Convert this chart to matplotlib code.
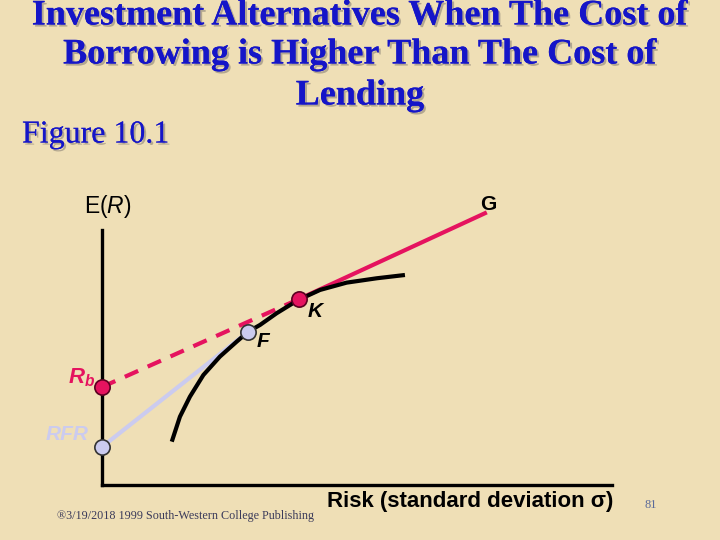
import matplotlib
matplotlib.use("Agg")
import matplotlib.pyplot as plt
import matplotlib.patheffects as pe

plt.rcParams["mathtext.fontset"] = "custom"
plt.rcParams["mathtext.rm"] = "Liberation Sans"
plt.rcParams["mathtext.it"] = "Liberation Sans:italic"
plt.rcParams["mathtext.bf"] = "Liberation Sans:bold"
plt.rcParams["mathtext.bfit"] = "Liberation Sans:italic:bold"

# ---- data (sigma, E(R)) ----
frontier_sigma = [3.42, 3.82, 4.31, 4.97, 5.78, 6.60, 7.17, 7.75, 8.56, 9.62, 10.69, 11.99, 13.47, 14.85]
frontier_er    = [2.38, 3.75, 4.85, 6.04, 7.05, 7.87, 8.42, 8.79, 9.43, 10.16, 10.71, 11.11, 11.35, 11.53]
rfr = (0.0, 2.09)
rb = (0.0, 5.38)
point_f = (7.17, 8.42)
point_k = (9.66, 10.21)
point_g = (18.77, 14.92)

title_lines = ["Investment Alternatives When The Cost of",
               "Borrowing is Higher Than The Cost of",
               "Lending"]

BG = "#EFDFB6"
CRIMSON = "#E5135F"
LAVENDER = "#CBCBEF"
BLUE = "#1515C8"

fig = plt.figure(figsize=(7.2, 5.4), dpi=100, facecolor=BG)

shadow = [pe.withSimplePatchShadow(offset=(1.5, -1.5), shadow_rgbFace="#9a9080", alpha=0.7), pe.Normal()]
title_y = [16, 55, 96]
for line, yp in zip(title_lines, title_y):
    fig.text(0.5, 1 - yp / 540, line, ha="center", va="center", fontsize=26,
             fontweight="bold", family="Liberation Serif", color=BLUE, path_effects=shadow)
fig.text(22 / 720, 1 - 135 / 540, "Figure 10.1", ha="left", va="center", fontsize=23,
         family="Liberation Serif", color=BLUE, path_effects=shadow)

ax = fig.add_axes([102 / 720, 55 / 540, 510 / 720, 255 / 540])
ax.set_facecolor("none")
ax.set_xlim(0, 25)
ax.set_ylim(0, 14)
for s in ["top", "right"]:
    ax.spines[s].set_visible(False)
for s in ["left", "bottom"]:
    ax.spines[s].set_linewidth(2.4)
    ax.spines[s].set_color("black")
    ax.spines[s].set_capstyle("projecting")
ax.set_xticks([])
ax.set_yticks([])

# efficient frontier
ax.plot(frontier_sigma, frontier_er, color="black", lw=3, solid_capstyle="butt",
        solid_joinstyle="round", zorder=3)
# lending line RFR -> F
ax.plot([rfr[0], point_f[0]], [rfr[1], point_f[1]], color=LAVENDER, lw=3, zorder=2)
# borrowing line Rb -> K (dashed), K -> G (solid)
ax.plot([rb[0], point_k[0]], [rb[1], point_k[1]], color=CRIMSON, lw=3,
        dashes=(3.5, 2.5), zorder=2, clip_on=False)
ax.plot([point_k[0], point_g[0]], [point_k[1], point_g[1]], color=CRIMSON, lw=3,
        zorder=2, clip_on=False)

ms = 11
ax.plot(*rfr, "o", ms=ms, mfc=LAVENDER, mec="#333333", mew=1.2, zorder=5, clip_on=False)
ax.plot(*point_f, "o", ms=ms, mfc=LAVENDER, mec="#333333", mew=1.2, zorder=5, clip_on=False)
ax.plot(*rb, "o", ms=ms, mfc=CRIMSON, mec="#5a0020", mew=1.2, zorder=5, clip_on=False)
ax.plot(*point_k, "o", ms=ms, mfc=CRIMSON, mec="#5a0020", mew=1.2, zorder=5, clip_on=False)

lab = dict(family="Liberation Sans", fontsize=15, clip_on=False)
ax.text(0.29, 15.27, r"E($\mathit{R}$)", ha="center", va="center", color="black",
        family="Liberation Sans", fontsize=16.5, clip_on=False)
ax.text(18.95, 15.38, "G", ha="center", va="center", color="black", fontweight="bold", **lab)
ax.text(10.44, 9.52, "K", ha="center", va="center", color="black", fontweight="bold", style="italic", **lab)
ax.text(7.89, 7.87, "F", ha="center", va="center", color="black", fontweight="bold", style="italic", **lab)
ax.text(-0.34, 5.88, r"$\mathbfit{R}_{\mathbfit{b}}$", ha="right", va="center", color=CRIMSON,
        family="Liberation Sans", fontsize=16, clip_on=False)
ax.text(-0.64, 2.8, "RFR", ha="right", va="center", color=LAVENDER, fontweight="bold", style="italic", **lab)
ax.text(18.04, -0.92, "Risk (standard deviation σ)", ha="center", va="center", color="black",
        fontweight="bold", family="Liberation Sans", fontsize=16, clip_on=False)

fig.text(57 / 720, 1 - 516 / 540, "®3/19/2018 1999 South-Western College Publishing",
         ha="left", va="center", fontsize=8.7, family="Liberation Serif", color="#3a3a5a")
fig.text(651 / 720, 1 - 505 / 540, "81", ha="center", va="center", fontsize=9,
         family="Liberation Serif", color="#5a6a9a")

fig.savefig("out.png", dpi=100, facecolor=BG)
